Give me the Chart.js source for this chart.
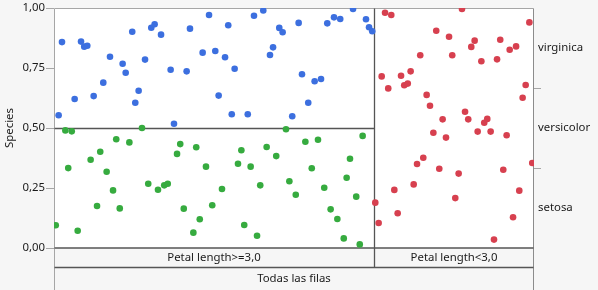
<!DOCTYPE html>
<html>
<head>
<meta charset="utf-8">
<script src="https://cdn.jsdelivr.net/npm/chart.js@4/dist/chart.umd.min.js"></script>
<style>
html,body{margin:0;padding:0;background:#f6f6f6;}
#wrap{width:598px;height:290px;}
</style>
</head>
<body>
<div id="wrap"><canvas id="c" width="598" height="290"></canvas></div>
<script>
// ---- data (x = jitter position: 0..2 left node, 2..3 right node; y = Species proportion axis) ----
const virginicaX = [0.050,0.169,0.189,0.208,0.350,0.429,0.448,0.489,0.569,0.608,0.629,0.669,0.729,0.829,0.850,0.969,0.929,1.008,1.029,0.308,0.248,0.129,0.529,0.508,0.029,0.750,1.089,1.069,1.129,1.111,1.211,1.250,1.308,1.369,1.350,1.408,1.429,1.529,1.550,1.629,1.669,1.589,1.489,1.708,1.750,1.789,1.869,1.950,1.969,1.989];
const virginicaY = [0.858,0.860,0.839,0.843,0.797,0.768,0.730,0.901,0.785,0.918,0.932,0.889,0.743,0.736,0.914,0.971,0.814,0.821,0.635,0.689,0.633,0.621,0.655,0.605,0.553,0.518,0.928,0.795,0.747,0.557,0.557,0.968,0.990,0.836,0.804,0.917,0.899,0.938,0.724,0.695,0.704,0.605,0.549,0.936,0.961,0.954,0.996,0.953,0.920,0.903];
const versicolorX = [0.071,0.111,0.550,0.389,0.471,0.289,0.229,0.089,0.329,0.369,0.269,0.411,0.011,0.148,0.589,0.650,0.689,0.711,0.789,0.769,0.889,0.950,0.811,0.911,0.871,0.989,1.050,1.171,1.150,1.229,1.329,1.389,1.450,1.289,1.189,1.269,1.471,1.511,1.571,1.650,1.611,1.689,1.729,1.771,1.811,1.829,1.850,1.889,1.911,1.929];
const versicolorY = [0.490,0.486,0.500,0.453,0.440,0.401,0.368,0.333,0.318,0.240,0.175,0.165,0.095,0.072,0.268,0.243,0.261,0.268,0.433,0.392,0.420,0.339,0.164,0.120,0.064,0.178,0.246,0.407,0.351,0.339,0.421,0.383,0.495,0.261,0.096,0.051,0.278,0.222,0.443,0.451,0.332,0.251,0.161,0.121,0.040,0.293,0.372,0.214,0.015,0.467];
const setosaX = [2.069,2.108,2.550,2.971,2.389,2.469,2.629,2.608,2.789,2.848,2.888,2.289,2.489,2.671,2.769,2.048,2.169,2.229,2.189,2.211,2.089,2.948,2.929,2.329,2.350,2.569,2.589,2.429,2.708,2.689,2.371,2.450,2.648,2.729,2.829,2.308,2.269,2.408,2.529,2.808,2.989,2.248,2.127,2.008,2.029,2.148,2.508,2.908,2.869,2.750];
const setosaY = [0.980,0.971,0.996,0.940,0.905,0.880,0.864,0.838,0.868,0.826,0.840,0.803,0.803,0.778,0.786,0.715,0.718,0.736,0.678,0.685,0.665,0.679,0.626,0.638,0.593,0.568,0.536,0.536,0.538,0.522,0.480,0.460,0.485,0.485,0.470,0.376,0.350,0.330,0.310,0.326,0.354,0.265,0.242,0.189,0.104,0.145,0.208,0.239,0.128,0.035];

const yTickValues = [0, 0.25, 0.5, 0.75, 1];
const yTickLabels = ['0,00', '0,25', '0,50', '0,75', '1,00'];
const speciesNames = ['setosa', 'versicolor', 'virginica'];
const speciesShares = [1/3, 1/3, 1/3];
const splitLabels = ['Petal length>=3,0', 'Petal length<3,0'];
const splitBounds = [0, 2, 3];          // node extents on x
const leftNodeSplit = 0.5;              // versicolor/virginica boundary in left node
const rootLabel = 'Todas las filas';
const yTitle = 'Species';

// ---- build ----
function pts(xs, ys){ return xs.map((x,i)=>({x:x, y:ys[i]})); }

const FONT = {family: "'Noto Sans', 'DejaVu Sans', sans-serif", size: 11.4};
const TXT = '#1a1a1a';
const LIGHT = '#a6a6a6';
const DARK = '#555555';

// right-axis tick positions: label centers and separators from cumulative shares
const rightTicks = [];
let cum = 0;
speciesShares.forEach((s, i) => {
  rightTicks.push({value: cum + s/2, label: speciesNames[i]});
  cum += s;
  if (i < speciesShares.length - 1) rightTicks.push({value: cum, label: ''});
});

const framePlugin = {
  id: 'frame',
  beforeDraw(chart){
    const {ctx, chartArea: a} = chart;
    ctx.save();
    ctx.fillStyle = '#f6f6f6';
    ctx.fillRect(0, 0, chart.width, chart.height);
    ctx.fillStyle = '#ffffff';
    ctx.fillRect(a.left, a.top, a.right - a.left, a.bottom - a.top);
    ctx.restore();
  },
  beforeDatasetsDraw(chart){
    const {ctx, chartArea: a, scales} = chart;
    const xs = scales.x, ys = scales.y, x2 = scales.x2;
    const L = Math.round(a.left) + 0.5, R = Math.round(a.right) - 0.5;
    const T = Math.round(a.top) + 0.5, B = Math.round(a.bottom) - 0.5;
    const mid = Math.round(x2.top) - 0.5;
    const bot = chart.height;
    const line = (x1,y1,x2_,y2,c) => { ctx.strokeStyle = c; ctx.beginPath(); ctx.moveTo(x1,y1); ctx.lineTo(x2_,y2); ctx.stroke(); };
    ctx.save();
    ctx.lineWidth = 1;
    // light frame
    line(L, T, R, T, LIGHT);
    line(L, T, L, bot, LIGHT);
    line(R, T, R, bot, '#8c8c8c');
    // node split
    const sx = Math.round(xs.getPixelForValue(splitBounds[1])) + 0.5;
    const hy = Math.round(ys.getPixelForValue(leftNodeSplit)) + 0.5;
    ctx.lineWidth = 1.3;
    line(L, hy, sx, hy, DARK);
    line(sx, T, sx, mid, DARK);
    line(L, B + 0.5, R, B + 0.5, DARK);
    line(L, mid, R, mid, DARK);
    ctx.restore();
  }
};

const pointStyle = {pointRadius: 3.3, pointBorderWidth: 0, pointHoverRadius: 3.3, showLine: false};

new Chart(document.getElementById('c'), {
  type: 'scatter',
  data: {
    datasets: [
      Object.assign({label: 'virginica', data: pts(virginicaX, virginicaY), backgroundColor: '#3c6fdf', borderColor: '#3c6fdf'}, pointStyle),
      Object.assign({label: 'versicolor', data: pts(versicolorX, versicolorY), backgroundColor: '#36ab3f', borderColor: '#36ab3f'}, pointStyle),
      Object.assign({label: 'setosa', data: pts(setosaX, setosaY), backgroundColor: '#d7404f', borderColor: '#d7404f'}, pointStyle)
    ]
  },
  options: {
    responsive: false,
    animation: false,
    devicePixelRatio: 1,
    events: [],
    layout: {padding: {top: 8, left: 0, right: 0, bottom: 0}},
    plugins: {legend: {display: false}, tooltip: {enabled: false}},
    scales: {
      x: {
        type: 'linear', position: 'bottom', min: splitBounds[0], max: splitBounds[2], weight: 0,
        grid: {display: false, drawTicks: false}, border: {display: false},
        afterBuildTicks(axis){ axis.ticks = splitLabels.map((l,i)=>({value: (splitBounds[i] + splitBounds[i+1]) / 2})); },
        ticks: {autoSkip: false, maxRotation: 0, padding: 3, color: TXT, font: FONT,
          callback: (v, i) => splitLabels[i]},
        afterFit(s){ s.height = 20; }
      },
      x2: {
        type: 'linear', position: 'bottom', min: splitBounds[0], max: splitBounds[2], weight: 1,
        grid: {display: false, drawTicks: false}, border: {display: false},
        afterBuildTicks(axis){ axis.ticks = [{value: (splitBounds[0] + splitBounds[2]) / 2}]; },
        ticks: {autoSkip: false, maxRotation: 0, padding: 4, color: TXT, font: FONT,
          callback: () => rootLabel},
        afterFit(s){ s.height = 22; }
      },
      y: {
        type: 'linear', position: 'left', min: 0, max: 1,
        grid: {display: true, drawOnChartArea: false, drawTicks: true, tickLength: 8, color: LIGHT},
        border: {display: false},
        afterBuildTicks(axis){ axis.ticks = yTickValues.map(v=>({value: v})); },
        ticks: {autoSkip: false, padding: 1, color: TXT, font: FONT,
          callback: (v, i) => yTickLabels[i]},
        title: {display: true, text: yTitle, color: TXT, font: FONT, padding: {top: 3, bottom: 0}},
        afterFit(s){ s.width = 54; }
      },
      y2: {
        type: 'linear', position: 'right', min: 0, max: 1,
        grid: {display: true, drawOnChartArea: false, drawTicks: true, tickLength: 7,
          tickColor: (c) => (c.tick && c.tick.label === '') ? LIGHT : 'rgba(0,0,0,0)'},
        border: {display: false},
        afterBuildTicks(axis){ axis.ticks = rightTicks.map(t=>({value: t.value})); },
        ticks: {autoSkip: false, padding: -3, color: TXT, font: FONT,
          callback: (v, i) => rightTicks[i].label},
        afterFit(s){ s.width = 64; }
      }
    }
  },
  plugins: [framePlugin]
});
</script>
</body>
</html>
